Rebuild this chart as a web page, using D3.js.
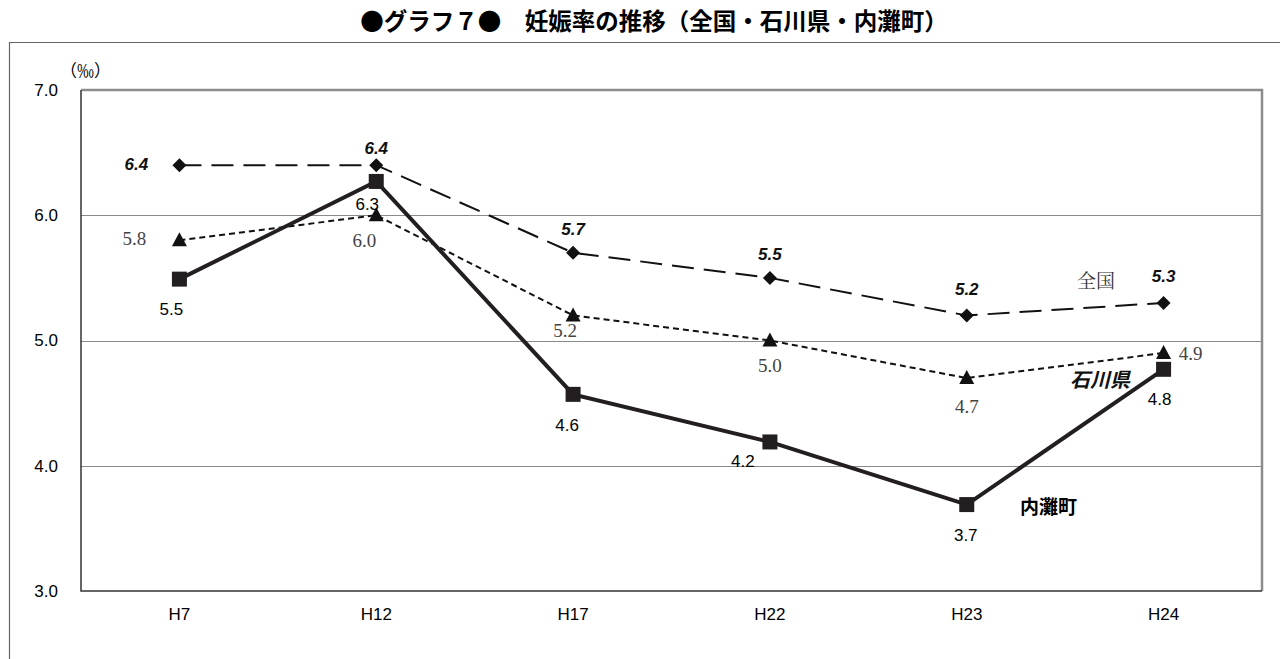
<!DOCTYPE html>
<html lang="ja">
<head>
<meta charset="utf-8">
<script src="https://cdn.jsdelivr.net/npm/d3@7"></script>
<style>
  html, body { margin: 0; padding: 0; background: #fff; }
  svg { display: block; }
</style>
</head>
<body>
<svg id="chart" width="1280" height="659"></svg>
<script>
// Survey years (Heisei era)
const years = ["H7", "H12", "H17", "H22", "H23", "H24"];
// Rate per 1000 (‰)
const national = [6.4, 6.4, 5.7, 5.5, 5.2, 5.3];       // 全国
const ishikawa = [5.8, 6.0, 5.2, 5.0, 4.7, 4.9];       // 石川県
const uchinada = [5.49, 6.27, 4.57, 4.19, 3.69, 4.77]; // 内灘町
const yTicks = [3.0, 4.0, 5.0, 6.0, 7.0];

const titleText = "●グラフ７●　妊娠率の推移（全国・石川県・内灘町）";

const svg = d3.select("#chart");
const sans = "'Liberation Sans', Arial, 'Noto Sans CJK JP', sans-serif";
const serif = "'Liberation Serif', 'DejaVu Serif', 'Noto Sans CJK JP', serif";
const jp = "'Noto Sans CJK JP', sans-serif";

const plot = { left: 81, right: 1262, top: 90, bottom: 591 };

const x = d3.scaleBand().domain(years).range([plot.left, plot.right]).padding(0);
const y = d3.scaleLinear().domain([3, 7]).range([plot.bottom, plot.top]);
const cx = d => x(d) + x.bandwidth() / 2;

// Title
svg.append("text")
  .attr("x", 654).attr("y", 30)
  .attr("text-anchor", "middle")
  .attr("font-family", jp).attr("font-weight", "bold")
  .attr("font-size", 23.5).attr("fill", "#000")
  .text(titleText);

// Outer frame (continues past the right and bottom edges)
svg.append("path")
  .attr("d", `M9.5,700 V42.5 H1300`)
  .attr("fill", "none").attr("stroke", "#666").attr("stroke-width", 1.2);

// Horizontal gridlines
svg.append("g").selectAll("line")
  .data(yTicks.filter(t => t > 3 && t < 7))
  .join("line")
  .attr("x1", plot.left).attr("x2", plot.right)
  .attr("y1", d => Math.round(y(d)) + 0.5).attr("y2", d => Math.round(y(d)) + 0.5)
  .attr("stroke", "#8a8a8a").attr("stroke-width", 1);

// Plot frame: grey top and right, dark left and bottom
svg.append("path")
  .attr("d", `M${plot.left},${plot.top} H${plot.right} V${plot.bottom}`)
  .attr("fill", "none").attr("stroke", "#8c8c8c").attr("stroke-width", 2.5);
svg.append("path")
  .attr("d", `M${plot.left},${plot.top} V${plot.bottom} H${plot.right}`)
  .attr("fill", "none").attr("stroke", "#333").attr("stroke-width", 1.5);

// Y axis labels
const yAxis = d3.axisLeft(y).tickValues(yTicks).tickFormat(d3.format(".1f")).tickSize(0).tickPadding(23);
const gy = svg.append("g").attr("transform", `translate(${plot.left},0)`).call(yAxis);
gy.select(".domain").remove();
gy.selectAll("text").attr("font-family", sans).attr("font-size", 17).attr("fill", "#000");

// X axis labels
const xAxis = d3.axisBottom(x).tickSize(0).tickPadding(17);
const gx = svg.append("g").attr("transform", `translate(0,${plot.bottom})`).call(xAxis);
gx.select(".domain").remove();
gx.selectAll("text").attr("font-family", sans).attr("font-size", 17).attr("fill", "#000");

// Unit label
svg.append("text")
  .attr("x", 60).attr("y", 77)
  .attr("font-family", jp).attr("font-size", 17).attr("fill", "#000")
  .text("（‰）");

const line = d3.line().x((d, i) => cx(years[i])).y(d => y(d));
const diamond = "M0,-7L7,0L0,7L-7,0Z";
const triangle = "M0,-8L7.5,6L-7.5,6Z";

// 全国: long dashed line with diamonds
svg.append("path").datum(national)
  .attr("d", line).attr("fill", "none")
  .attr("stroke", "#111").attr("stroke-width", 2)
  .attr("stroke-dasharray", "22,10");
svg.append("g").selectAll("path")
  .data(national).join("path")
  .attr("d", diamond)
  .attr("transform", (d, i) => `translate(${cx(years[i])},${y(d)})`)
  .attr("fill", "#111");

// 石川県: short dashed line with triangles
svg.append("path").datum(ishikawa)
  .attr("d", line).attr("fill", "none")
  .attr("stroke", "#111").attr("stroke-width", 2)
  .attr("stroke-dasharray", "6,4");
svg.append("g").selectAll("path")
  .data(ishikawa).join("path")
  .attr("d", triangle)
  .attr("transform", (d, i) => `translate(${cx(years[i])},${y(d)})`)
  .attr("fill", "#111");

// 内灘町: thick solid line with squares
svg.append("path").datum(uchinada)
  .attr("d", line).attr("fill", "none")
  .attr("stroke", "#231f20").attr("stroke-width", 4)
  .attr("stroke-linejoin", "miter");
svg.append("g").selectAll("rect")
  .data(uchinada).join("rect")
  .attr("x", (d, i) => cx(years[i]) - 7.5).attr("y", d => y(d) - 7.5)
  .attr("width", 15).attr("height", 15)
  .attr("fill", "#231f20");

const fmt = d3.format(".1f");

// 全国 value labels (bold italic)
const natOff = [[-43, 5], [0, -11], [0, -18], [0, -18], [0, -20], [0, -21]];
svg.append("g").selectAll("text")
  .data(national).join("text")
  .attr("x", (d, i) => cx(years[i]) + natOff[i][0])
  .attr("y", (d, i) => y(d) + natOff[i][1])
  .attr("text-anchor", "middle")
  .attr("font-family", sans).attr("font-style", "italic").attr("font-weight", "bold")
  .attr("font-size", 17).attr("fill", "#111")
  .text(d => fmt(d));

// 石川県 value labels (serif, grey)
const ishOff = [[-45, 5], [-12, 32], [-8, 22], [0, 31], [0, 35], [27, 7]];
svg.append("g").selectAll("text")
  .data(ishikawa).join("text")
  .attr("x", (d, i) => cx(years[i]) + ishOff[i][0])
  .attr("y", (d, i) => y(d) + ishOff[i][1])
  .attr("text-anchor", "middle")
  .attr("font-family", serif).attr("font-size", 19).attr("fill", "#444")
  .text(d => fmt(d));

// 内灘町 value labels (sans, below markers)
const uchOff = [[-8, 36], [-9, 29], [-6, 37], [-27, 25], [-1, 36], [-4, 36]];
svg.append("g").selectAll("text")
  .data(uchinada).join("text")
  .attr("x", (d, i) => cx(years[i]) + uchOff[i][0])
  .attr("y", (d, i) => y(d) + uchOff[i][1])
  .attr("text-anchor", "middle")
  .attr("font-family", sans).attr("font-size", 17).attr("fill", "#000")
  .text(d => fmt(d));

// Series name labels
svg.append("text")
  .attr("x", 1077).attr("y", 288)
  .attr("font-family", "'Noto Serif CJK JP', 'Noto Sans CJK JP', serif")
  .attr("font-size", 19).attr("fill", "#333")
  .text("全国");
svg.append("text")
  .attr("x", 1070).attr("y", 387)
  .attr("font-family", jp).attr("font-style", "italic").attr("font-weight", "bold")
  .attr("font-size", 20).attr("fill", "#111")
  .text("石川県");
svg.append("text")
  .attr("x", 1020).attr("y", 514)
  .attr("font-family", jp).attr("font-weight", "bold")
  .attr("font-size", 19).attr("fill", "#000")
  .text("内灘町");
</script>
</body>
</html>
